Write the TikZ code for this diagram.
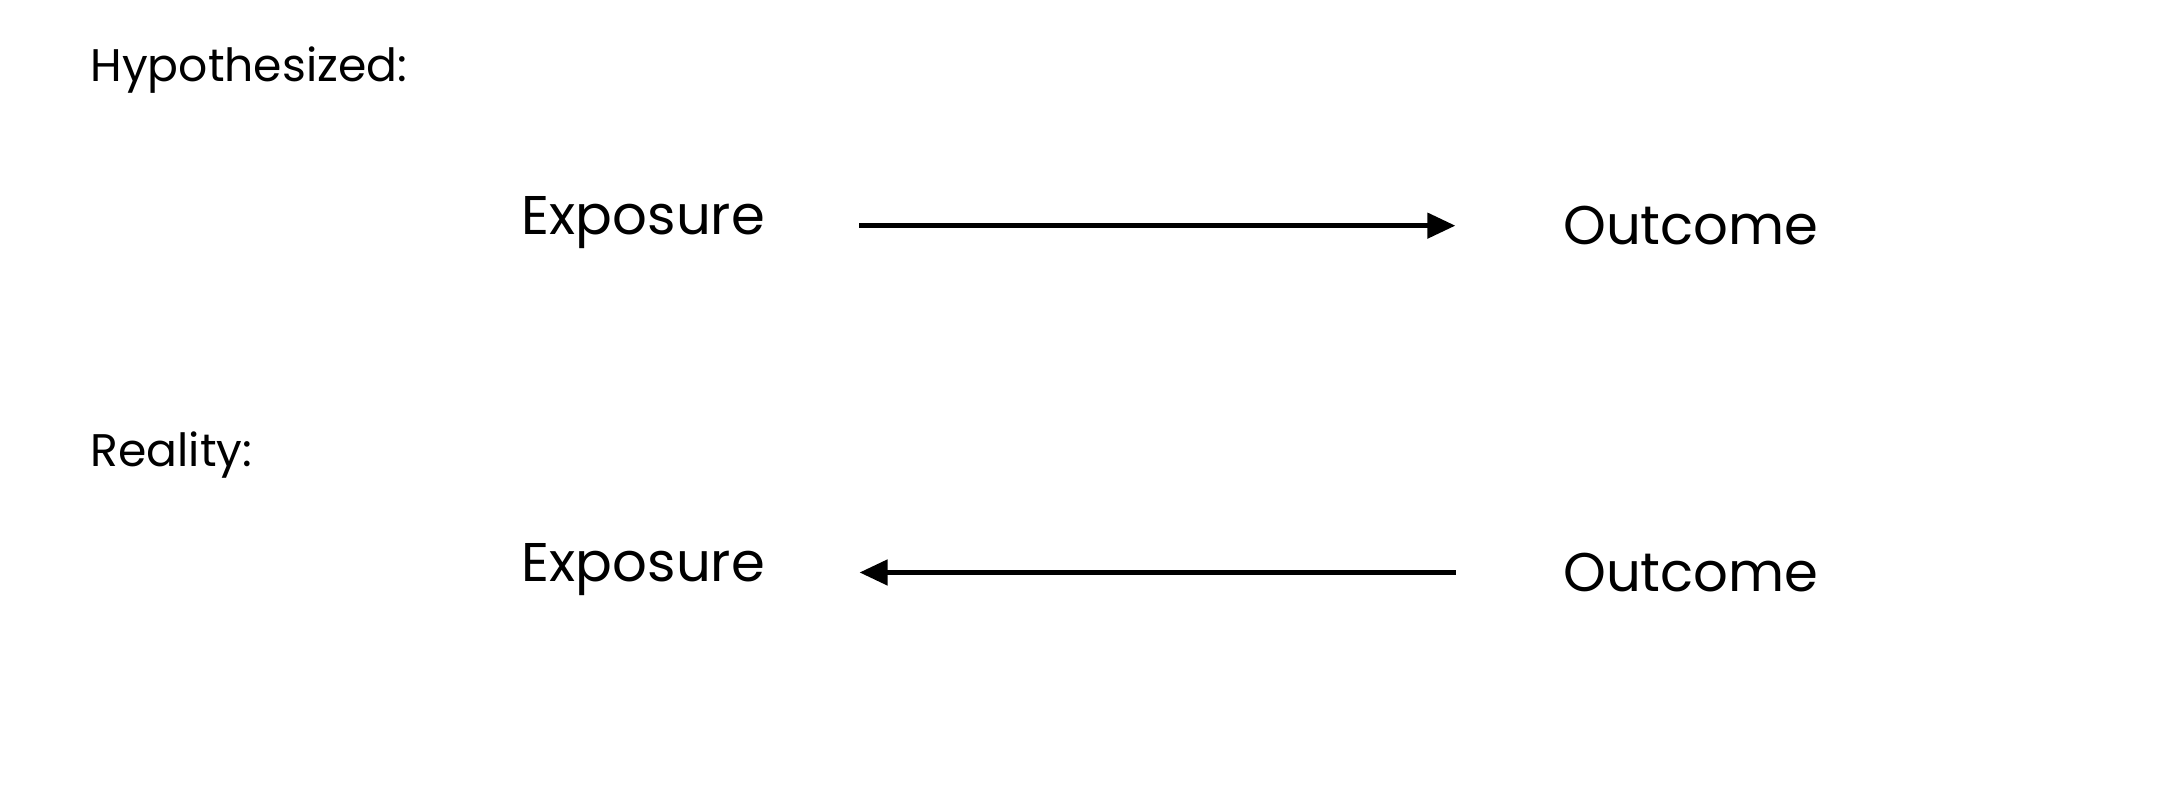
\documentclass[tikz,border=0pt]{standalone}
\usepackage{fontspec}
\setmainfont{Poppins}
\usetikzlibrary{arrows.meta}

\begin{document}
\begin{tikzpicture}[x=0.01393cm,y=-0.01393cm,>={Triangle[length=8pt,width=7pt]},line width=1.6pt]
    \tikzstyle{heading}=[anchor=west,font=\fontsize{13}{15}\selectfont,inner sep=0pt]
    \tikzstyle{var}=[font=\fontsize{15.5}{18}\selectfont,inner sep=0pt]
    \useasboundingbox (0,0) rectangle (1568,569);

    \node[heading] (H) at (63,50) {Hypothesized:};
    \node[var] (E1) at (462,160) {Exposure};
    \node[var] (O1) at (1214,162) {Outcome};
    \coordinate (a1) at (617,162);
    \coordinate (b1) at (1045,162);
    \draw[->] (a1) -- (b1);

    \node[heading] (R) at (63,327) {Reality:};
    \node[var] (E2) at (462,409) {Exposure};
    \node[var] (O2) at (1214,411) {Outcome};
    \coordinate (a2) at (617,411);
    \coordinate (b2) at (1045,411);
    \draw[->] (b2) -- (a2);
\end{tikzpicture}
\end{document}
